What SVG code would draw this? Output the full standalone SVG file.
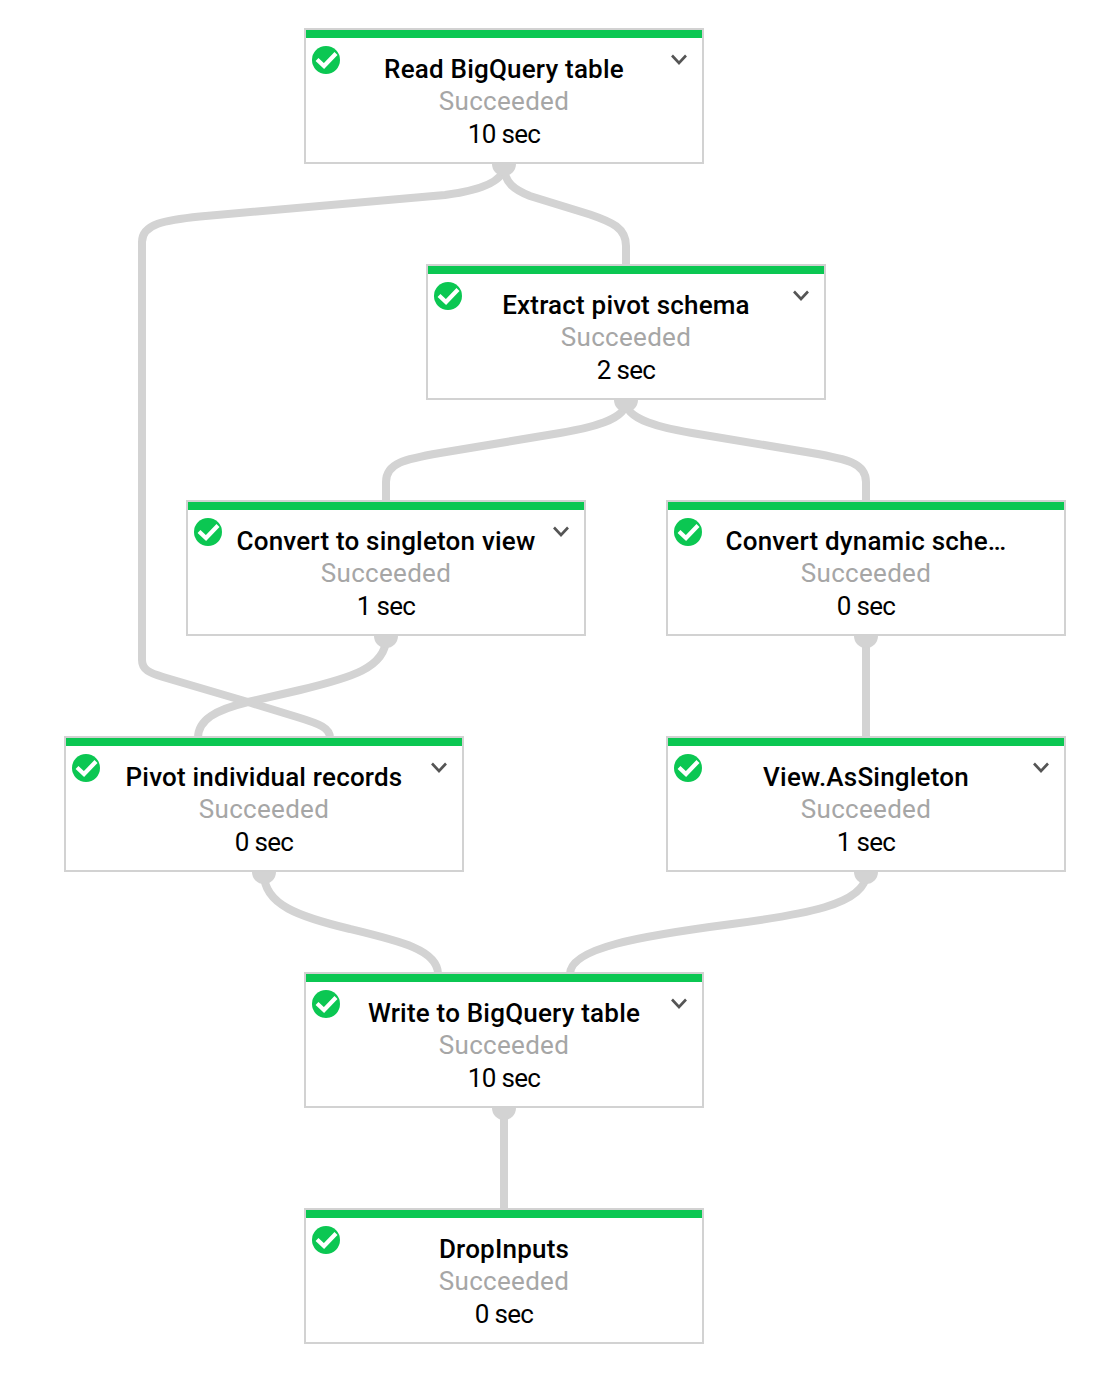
<svg xmlns="http://www.w3.org/2000/svg" xmlns:xlink="http://www.w3.org/1999/xlink" width="1116" height="1376" viewBox="0 0 1116 1376">
<style>
.box{fill:#fff;stroke:#d2d2d2;stroke-width:2}
.bar{fill:#0bc752}
.t{font-family:Roboto,"Liberation Sans",sans-serif;text-anchor:middle;font-size:26px}
.n{font-weight:500;fill:#000;letter-spacing:.2px}
.s{fill:#a6a6a6;letter-spacing:.3px}
.d{fill:#000;letter-spacing:-.7px}
.c{fill:none;stroke:#d3d3d3;stroke-width:8}
.dot{fill:#d3d3d3}
.chev{fill:none;stroke:#555;stroke-width:2.6}
.tick{fill:none;stroke:#fff;stroke-width:4.2}
</style>
<defs>
<g id="frame">
<rect class="box" x="1" y="1" width="398" height="134"/>
<rect class="bar" x="2" y="2" width="396" height="8"/>
<circle class="bar" cx="22" cy="32" r="14"/>
<path class="tick" d="M13 31.500L20 38L32 25.500"/>
</g>
<path id="chevron" class="chev" d="M368 27.500L375 35L382 27.500"/>
</defs>
<g id="connectors">
<path class="c" d="M504 166C504 183 475 191 445 195L200 216.500C165 220 142 224 142 242L142 660C142 670 150 673 163 677L248 702L297 717C320 724 330 728 330 738"/>
<path class="c" d="M504 166C504 183 515 190 530 196L590 214.500C612 222 626 228 626 246L626 266"/>
<path class="c" d="M626 402C626 420 590 428 560 433L440 453C405 459 386 463 386 482L386 502"/>
<path class="c" d="M626 402C626 420 662 428 692 433L812 453C847 459 866 463 866 482L866 502"/>
<path class="c" d="M386 638C386 668 350 678 300 690L248 702C215 710 198 720 198 738"/>
<path class="c" d="M866 638L866 738"/>
<path class="c" d="M264 874C264 905 300 917 350 929C400 941 438 950 438 974"/>
<path class="c" d="M866 874C866 905 800 915 732 924C640 936 570 948 570 974"/>
<path class="c" d="M504 1110L504 1210"/>
<path class="dot" d="M492 164A12 12 0 0 0 516 164Z"/>
<path class="dot" d="M614 400A12 12 0 0 0 638 400Z"/>
<path class="dot" d="M374 636A12 12 0 0 0 398 636Z"/>
<path class="dot" d="M854 636A12 12 0 0 0 878 636Z"/>
<path class="dot" d="M252 872A12 12 0 0 0 276 872Z"/>
<path class="dot" d="M854 872A12 12 0 0 0 878 872Z"/>
<path class="dot" d="M492 1108A12 12 0 0 0 516 1108Z"/>
</g>
<g id="read"><use href="#frame" x="304" y="28"/><use href="#chevron" x="304" y="28"/>
<text class="t n" x="504" y="78">Read BigQuery table</text><text class="t s" x="504" y="110">Succeeded</text><text class="t d" x="504" y="142.500">10 sec</text></g>
<g id="extract"><use href="#frame" x="426" y="264"/><use href="#chevron" x="426" y="264"/>
<text class="t n" x="626" y="314">Extract pivot schema</text><text class="t s" x="626" y="346">Succeeded</text><text class="t d" x="626" y="378.500">2 sec</text></g>
<g id="singleton"><use href="#frame" x="186" y="500"/><use href="#chevron" x="186" y="500"/>
<text class="t n" x="386" y="550">Convert to singleton view</text><text class="t s" x="386" y="582">Succeeded</text><text class="t d" x="386" y="614.500">1 sec</text></g>
<g id="dynamic"><use href="#frame" x="666" y="500"/>
<text class="t n" x="866" y="550">Convert dynamic sche…</text><text class="t s" x="866" y="582">Succeeded</text><text class="t d" x="866" y="614.500">0 sec</text></g>
<g id="pivot"><use href="#frame" x="64" y="736"/><use href="#chevron" x="64" y="736"/>
<text class="t n" x="264" y="786">Pivot individual records</text><text class="t s" x="264" y="818">Succeeded</text><text class="t d" x="264" y="850.500">0 sec</text></g>
<g id="view"><use href="#frame" x="666" y="736"/><use href="#chevron" x="666" y="736"/>
<text class="t n" x="866" y="786">View.AsSingleton</text><text class="t s" x="866" y="818">Succeeded</text><text class="t d" x="866" y="850.500">1 sec</text></g>
<g id="write"><use href="#frame" x="304" y="972"/><use href="#chevron" x="304" y="972"/>
<text class="t n" x="504" y="1022">Write to BigQuery table</text><text class="t s" x="504" y="1054">Succeeded</text><text class="t d" x="504" y="1086.500">10 sec</text></g>
<g id="drop"><use href="#frame" x="304" y="1208"/>
<text class="t n" x="504" y="1258">DropInputs</text><text class="t s" x="504" y="1290">Succeeded</text><text class="t d" x="504" y="1322.500">0 sec</text></g>
</svg>
